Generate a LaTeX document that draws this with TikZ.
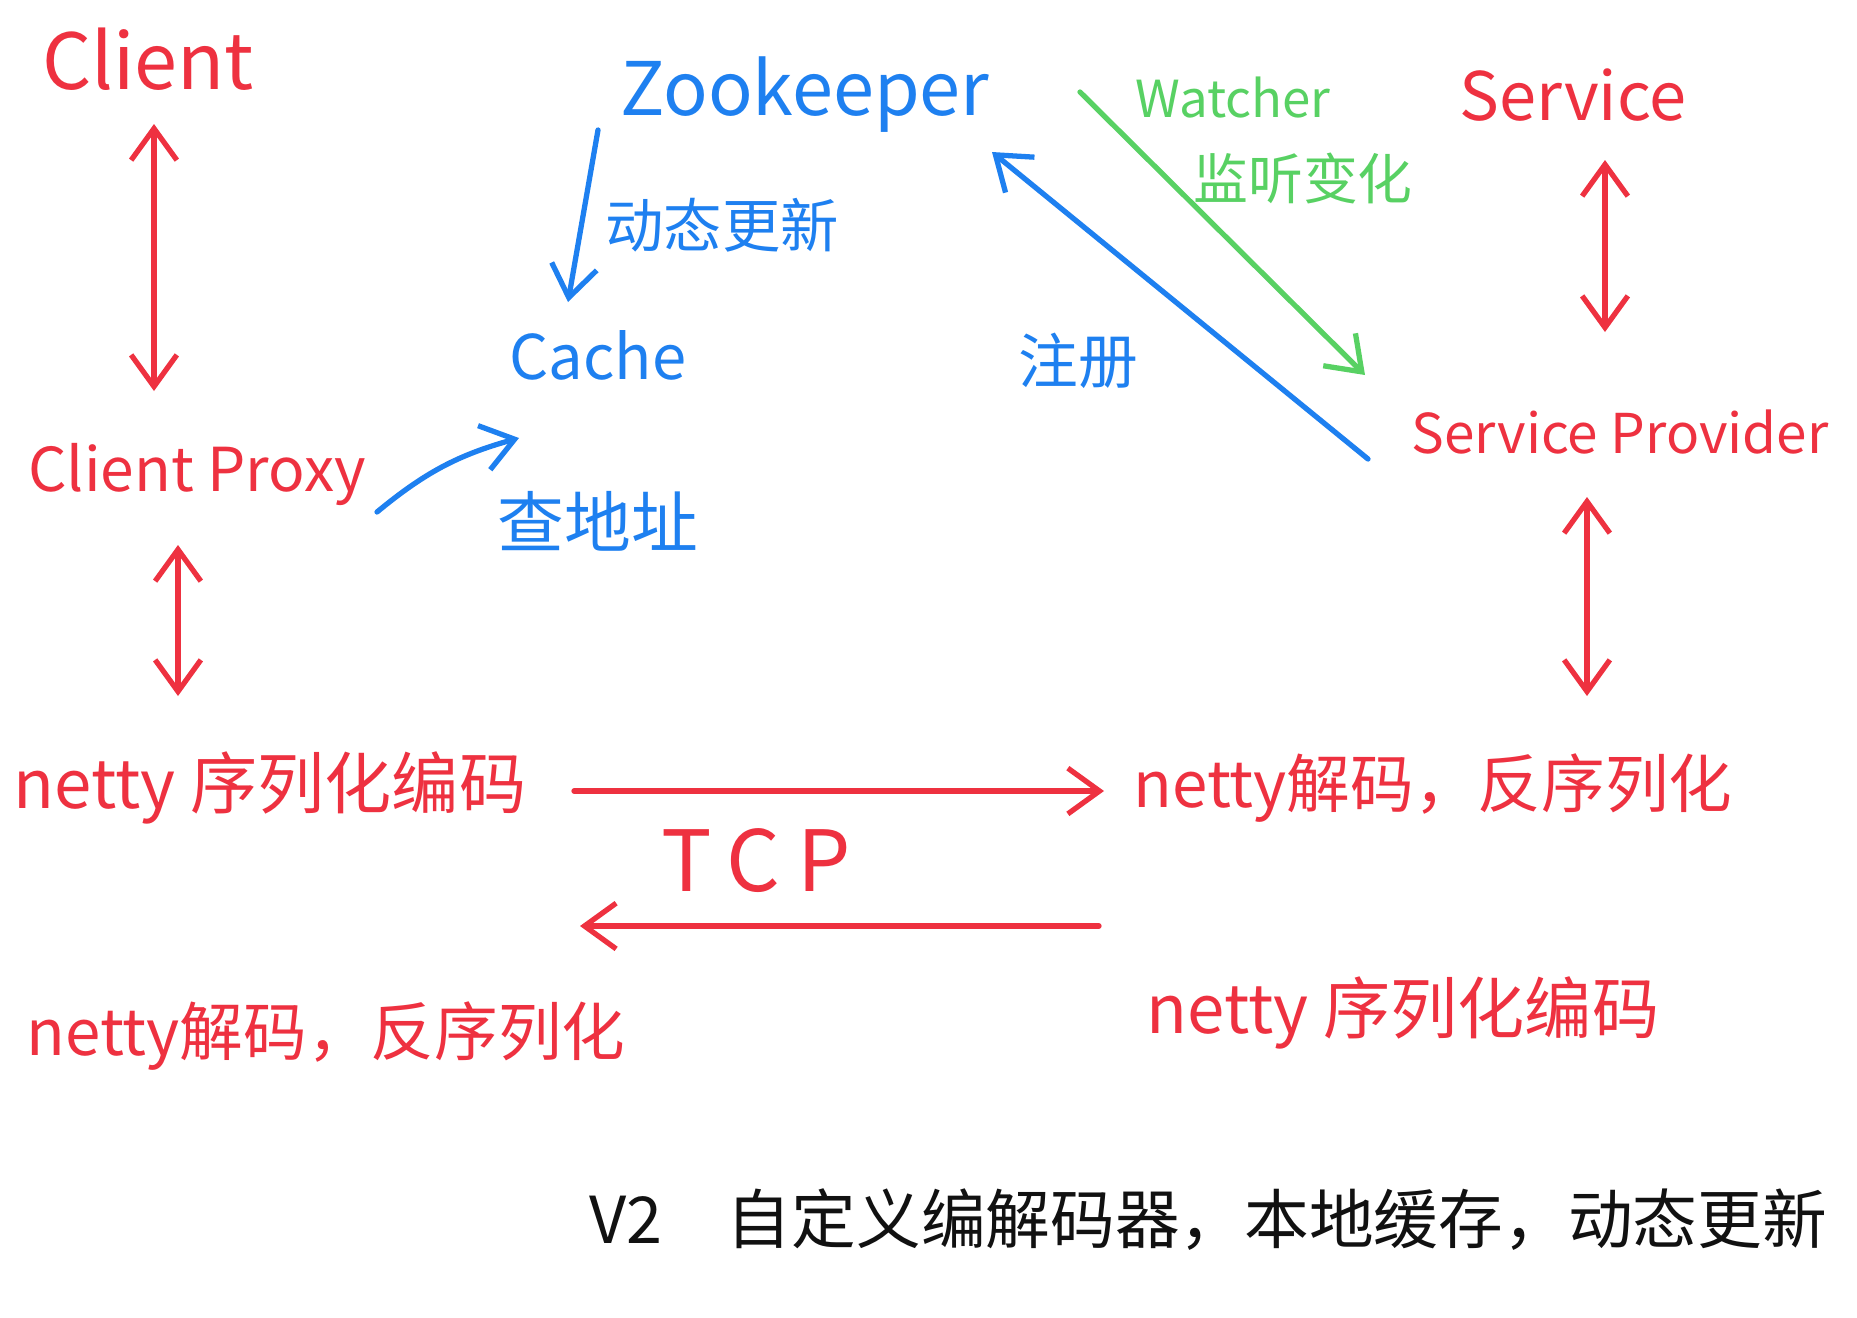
\documentclass[tikz,border=0pt]{standalone}
\usepackage{fontspec}
\setmainfont{Noto Sans CJK SC}
\usetikzlibrary{arrows.meta}
\definecolor{PenRed}{HTML}{EE3140}
\definecolor{PenBlue}{HTML}{1E80F0}
\definecolor{PenGreen}{HTML}{58D163}
\definecolor{PenBlack}{HTML}{111111}
\newcommand{\pensize}[1]{\fontsize{#1}{#1}\selectfont}

\begin{document}
\begin{tikzpicture}[x=0.01cm,y=-0.01cm,
  every node/.style={inner sep=0pt},
  pen/.style={line width=1.5pt,line cap=round,line join=round},
  barb/.style={-{Straight Barb[length=9pt,width=13pt]}},
  twobarb/.style={{Straight Barb[length=9pt,width=13pt]}-{Straight Barb[length=9pt,width=13pt]}}]
\useasboundingbox (0,0) rectangle (1857,1317);
\fill[white] (0,0) rectangle (1857,1317);
% red: client side and provider side
\node[text=PenRed,font=\pensize{22pt}] (client) at (148,59) {Client};
\node[text=PenRed,font=\pensize{17.2pt}] (proxy) at (197,474) {Client Proxy};
\node[text=PenRed,font=\pensize{19pt}] (service) at (1573,95) {Service};
\node[text=PenRed,font=\pensize{15.6pt}] (provider) at (1620,432) {Service Provider};
\node[text=PenRed,font=\pensize{19.1pt}] (encL) at (270,788) {netty 序列化编码};
\node[text=PenRed,font=\pensize{18.1pt}] (decR) at (1433,788) {netty解码，反序列化};
\node[text=PenRed,font=\pensize{18.1pt}] (decL) at (326,1036) {netty解码，反序列化};
\node[text=PenRed,font=\pensize{19.1pt}] (encR) at (1403,1013) {netty 序列化编码};
\node[text=PenRed,font=\pensize{24pt}\addfontfeature{LetterSpace=20}] (tcp) at (756,861) {TCP};
% blue: registry and cache
\node[text=PenBlue,font=\pensize{21pt}] (zk) at (805,95) {Zookeeper};
\node[text=PenBlue,font=\pensize{17.5pt}] (cache) at (598,355) {Cache};
\node[text=PenBlue,font=\pensize{16.6pt}] (update) at (722,225) {动态更新};
\node[text=PenBlue,font=\pensize{19pt}] (lookup) at (598,521) {查地址};
\node[text=PenBlue,font=\pensize{17pt}] (register) at (1078,361) {注册};
% green: watcher
\node[text=PenGreen,font=\pensize{14.5pt}] (watcher) at (1233,98) {Watcher};
\node[text=PenGreen,font=\pensize{15.6pt}] (watch) at (1303,178) {监听变化};
% title
\node[text=PenBlack,font=\pensize{18.4pt}] (title) at (1208,1220) {V2\quad 自定义编解码器，本地缓存，动态更新};

\draw[pen,PenRed,twobarb] ([shift={(6,65)}]client.center) -- ([shift={(-43,-83)}]proxy.center);
\draw[pen,PenRed,twobarb] ([shift={(-19,71)}]proxy.center) -- ([shift={(-92,-92)}]encL.center);
\draw[pen,PenRed,twobarb] ([shift={(32,65)}]service.center) -- ([shift={(-15,-100)}]provider.center);
\draw[pen,PenRed,twobarb] ([shift={(-33,65)}]provider.center) -- ([shift={(154,-92)}]decR.center);
\draw[pen,PenRed,barb] ([shift={(304,3)}]encL.center) -- ([shift={(-329,3)}]decR.center);
\draw[pen,PenRed,barb] ([shift={(-304,-87)}]encR.center) -- ([shift={(254,-110)}]decL.center);
\draw[pen,PenBlue,barb] ([shift={(180,38)}]proxy.center) to[bend left=12] ([shift={(-79,83)}]cache.center);
\draw[pen,PenBlue,barb] ([shift={(-207,35)}]zk.center) -- ([shift={(-30,-53)}]cache.center);
\draw[pen,PenBlue,barb] ([shift={(-252,27)}]provider.center) -- ([shift={(187,57)}]zk.center);
\draw[pen,PenGreen,barb] ([shift={(275,-3)}]zk.center) -- ([shift={(-255,-57)}]provider.center);
\end{tikzpicture}
\end{document}
